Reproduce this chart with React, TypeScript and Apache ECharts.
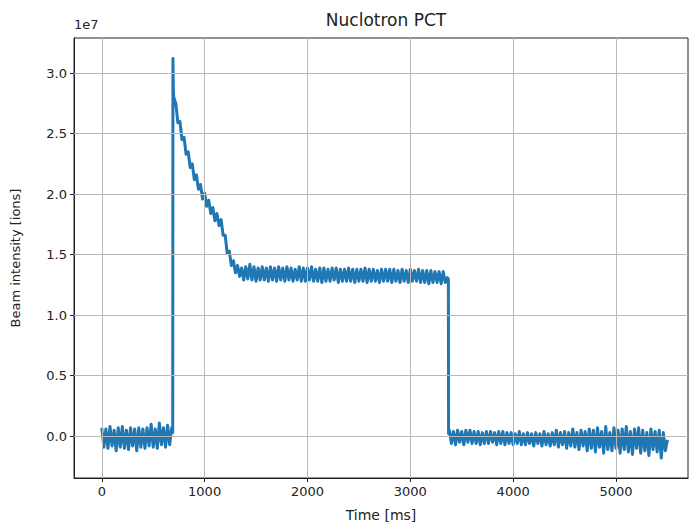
import React, { useEffect, useRef } from "react";
import * as echarts from "echarts";

// Values are in units of 1e7 ions; time in ms.
const SCALE = 1e7;
const STEP = 20;

const baselineBeforeStart = 0;
const baselineBefore = [
  0.07, -0.09, 0.06, -0.1, 0.08, -0.08, 0.05, -0.12, 0.07, -0.09,
  0.08, -0.1, 0.05, -0.11, 0.07, -0.08, 0.06, -0.12, 0.07, -0.09,
  0.06, -0.1, 0.07, -0.08, 0.1, -0.09, 0.06, -0.1, 0.11, -0.07,
  0.07, -0.09, 0.09, -0.07, 0.07,
];

const riseTimes = [690, 692, 696];
const riseValues = [0.03, 3.12, 2.86];

const decayStart = 700;
const decay = [
  2.8, 2.75, 2.59, 2.6, 2.45, 2.47, 2.33, 2.35, 2.22, 2.25,
  2.12, 2.16, 2.04, 2.08, 1.96, 2.01, 1.9, 1.95, 1.84, 1.89,
  1.78, 1.84, 1.74, 1.79, 1.66, 1.66, 1.51, 1.53, 1.41, 1.45,
  1.35, 1.41, 1.32,
];

const plateauStart = 1360;
const plateau = [
  1.39, 1.29, 1.4, 1.3, 1.42, 1.29, 1.4, 1.28, 1.39, 1.29,
  1.4, 1.29, 1.39, 1.28, 1.4, 1.29, 1.39, 1.28, 1.4, 1.29,
  1.39, 1.28, 1.4, 1.29, 1.39, 1.28, 1.38, 1.29, 1.4, 1.28,
  1.39, 1.28, 1.39, 1.29, 1.4, 1.28, 1.38, 1.28, 1.39, 1.27,
  1.39, 1.28, 1.38, 1.28, 1.39, 1.29, 1.39, 1.27, 1.38, 1.28,
  1.38, 1.28, 1.39, 1.28, 1.38, 1.27, 1.38, 1.28, 1.38, 1.28,
  1.39, 1.27, 1.38, 1.28, 1.38, 1.28, 1.37, 1.27, 1.38, 1.28,
  1.38, 1.28, 1.38, 1.27, 1.38, 1.28, 1.37, 1.27, 1.38, 1.28,
  1.37, 1.27, 1.38, 1.28, 1.37, 1.28, 1.38, 1.27, 1.37, 1.27,
  1.37, 1.26, 1.37, 1.27, 1.36, 1.27, 1.36, 1.26, 1.36, 1.27,
  1.31,
];

const fallTimes = [3370, 3372];
const fallValues = [1.3, 0.02];

const baselineAfterStart = 3380;
const baselineAfter = [
  0.05, -0.06, 0.04, -0.07, 0.05, -0.05, 0.04, -0.07, 0.05, -0.05,
  0.05, -0.06, 0.04, -0.06, 0.04, -0.07, 0.03, -0.06, 0.04, -0.06,
  0.04, -0.05, 0.03, -0.07, 0.04, -0.06, 0.04, -0.07, 0.03, -0.06,
  0.03, -0.07, 0.02, -0.06, 0.04, -0.07, 0.02, -0.07, 0.03, -0.06,
  0.02, -0.08, 0.03, -0.06, 0.02, -0.08, 0.04, -0.07, 0.02, -0.08,
  0.03, -0.07, 0.05, -0.09, 0.03, -0.07, 0.04, -0.1, 0.03, -0.08,
  0.06, -0.09, 0.03, -0.11, 0.05, -0.08, 0.04, -0.12, 0.06, -0.1,
  0.05, -0.13, 0.07, -0.09, 0.04, -0.14, 0.08, -0.11, 0.03, -0.12,
  0.07, -0.1, 0.05, -0.14, 0.06, -0.11, 0.08, -0.13, 0.04, -0.15,
  0.06, -0.1, 0.07, -0.14, 0.05, -0.12, 0.03, -0.16, 0.06, -0.11,
  0.04, -0.13, 0.05, -0.18, 0.03, -0.12, -0.03,
];

const xTicks = [0, 1000, 2000, 3000, 4000, 5000];
const yTicks = [0, 0.5, 1.0, 1.5, 2.0, 2.5, 3.0];

function segment(start: number, vals: number[]): number[][] {
  return vals.map((v, i) => [start + i * STEP, v * SCALE]);
}
function pairs(ts: number[], vs: number[]): number[][] {
  return ts.map((t, i) => [t, vs[i] * SCALE]);
}

const seriesData = [
  ...segment(baselineBeforeStart, baselineBefore),
  ...pairs(riseTimes, riseValues),
  ...segment(decayStart, decay),
  ...segment(plateauStart, plateau),
  ...pairs(fallTimes, fallValues),
  ...segment(baselineAfterStart, baselineAfter),
];

const FONT = "DejaVu Sans";

export default function App() {
  const ref = useRef<HTMLDivElement>(null);
  useEffect(() => {
    if (!ref.current) return;
    const chart = echarts.init(ref.current, undefined, { renderer: "svg" });
    const yTickVals = yTicks.map((v) => v * SCALE);
    chart.setOption({
      animation: false,
      backgroundColor: "#fff",
      title: {
        text: "Nuclotron PCT",
        left: 381,
        top: 6,
        textAlign: "center",
        textStyle: { fontFamily: FONT, fontSize: 17, fontWeight: "normal", color: "#222" },
      },
      graphic: [
        {
          type: "text",
          left: 74,
          top: 18,
          style: { text: "1e7", font: `13px "${FONT}"`, fill: "#222" },
        },
      ],
      grid: {
        left: 74,
        right: 9,
        top: 38,
        bottom: 51,
        show: true,
        borderColor: "#222",
        borderWidth: 1,
        backgroundColor: "transparent",
      },
      xAxis: {
        type: "value",
        min: -270,
        max: 5700,
        name: "Time [ms]",
        nameLocation: "middle",
        nameGap: 30,
        nameTextStyle: { fontFamily: FONT, fontSize: 14, color: "#222" },
        axisLine: { show: true, onZero: false, lineStyle: { color: "#222", width: 1 } },
        axisTick: { show: true, length: 4, customValues: xTicks, lineStyle: { color: "#222" } },
        axisLabel: {
          customValues: xTicks,
          fontFamily: FONT,
          fontSize: 13,
          color: "#222",
          margin: 7,
          formatter: (v: number) => String(Math.round(v)),
        },
        splitLine: { show: false },
      },
      yAxis: {
        type: "value",
        min: -0.345 * SCALE,
        max: 3.29 * SCALE,
        name: "Beam intensity [ions]",
        nameLocation: "middle",
        nameGap: 52,
        nameRotate: 90,
        nameTextStyle: { fontFamily: FONT, fontSize: 13, color: "#222" },
        axisLine: { show: true, onZero: false, lineStyle: { color: "#222", width: 1 } },
        axisTick: { show: true, length: 4, customValues: yTickVals, lineStyle: { color: "#222" } },
        axisLabel: {
          customValues: yTickVals,
          fontFamily: FONT,
          fontSize: 13,
          color: "#222",
          margin: 7,
          formatter: (v: number) => (v / SCALE).toFixed(1),
        },
        splitLine: { show: false },
      },
      series: [
        {
          type: "line",
          data: [],
          z: 1,
          silent: true,
          markLine: {
            silent: true,
            symbol: "none",
            label: { show: false },
            lineStyle: { color: "#b8b8b8", width: 1, type: "solid" },
            data: [
              ...xTicks.map((v) => ({ xAxis: v })),
              ...yTickVals.map((v) => ({ yAxis: v })),
            ],
          },
        },
        {
          type: "line",
          data: seriesData,
          z: 3,
          showSymbol: false,
          symbol: "none",
          lineStyle: { color: "#1f77b4", width: 3, join: "round" },
          itemStyle: { color: "#1f77b4" },
        },
      ],
    });
    return () => chart.dispose();
  }, []);
  return (
    <div
      ref={ref}
      style={{ position: "fixed", left: 0, top: 0, width: 697, height: 529 }}
    />
  );
}
